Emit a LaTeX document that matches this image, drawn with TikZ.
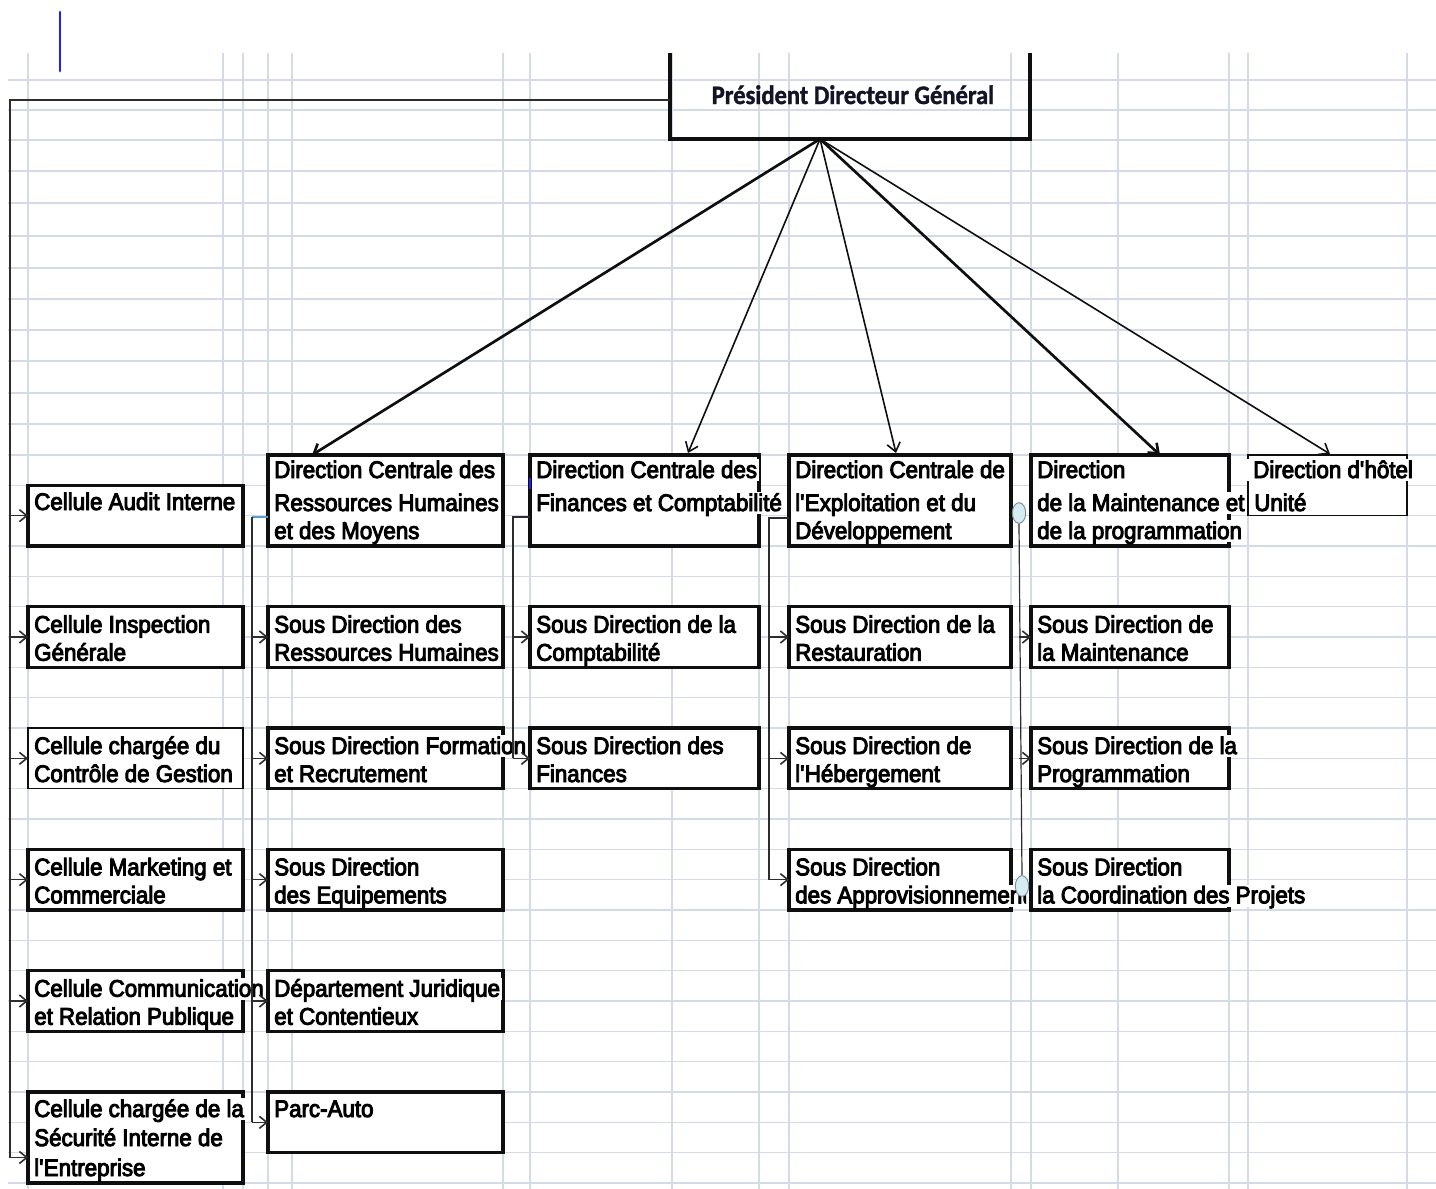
\documentclass[tikz,border=0pt]{standalone}
\usepackage{fontspec}
\usetikzlibrary{arrows.meta,shapes.geometric,calc}
\newfontfamily\boxfont{Liberation Sans}[FakeStretch=0.93,FakeBold=4]
\newfontfamily\titlefont{Carlito}[FakeStretch=0.92,FakeBold=1.5]
\definecolor{gridc}{RGB}{212,218,232}
\definecolor{ink}{RGB}{15,15,15}
\definecolor{wire}{RGB}{45,45,45}
\definecolor{stubblue}{RGB}{91,155,213}
\definecolor{cursorblue}{RGB}{30,30,255}
\definecolor{handlefill}{RGB}{214,236,243}
\definecolor{handledraw}{RGB}{125,140,150}
\newcommand\q{\textquotesingle}
% box: name, x1, y1, x2, y2 (pixel units, y downwards)
\newcommand\orgbox[6][]{\node[orgcell,#1,minimum width={(#5-#3)*0.75pt},minimum height={(#6-#4)*0.75pt}] (#2) at (#3,#4) {};}
% one text line of a box: name, x, baseline, text
\newcommand\cellline[5][]{\node[celltext,#1] (#2) at (#3,#4) {#5};}
\tikzset{
  gridline/.style={draw=gridc,line width=1.1pt},
  orgcell/.style={rectangle,anchor=north west,draw=ink,fill=white,line width=2.4pt,inner sep=0pt,outer sep=0pt},
  thincell/.style={line width=1.1pt},
  celltext/.style={anchor=base west,font=\boxfont\fontsize{18pt}{20pt}\selectfont,fill=white,
    inner xsep=1.5pt,inner ysep=0pt,text height=14pt,text depth=2.5pt,text=black},
  arr/.style={draw=wire,line width=1.2pt,-{Straight Barb[length=5.5pt,width=9pt]}},
  subwire/.style={draw=wire,line width=1.2pt},
  topthick/.style={draw=ink,line width=2pt,-{Straight Barb[length=6.5pt,width=10pt]}},
  topthin/.style={draw=ink,line width=1.2pt,-{Straight Barb[length=6.5pt,width=10pt]}},
  handle/.style={ellipse,minimum width=10pt,minimum height=15.5pt,inner sep=0pt,fill=handlefill,draw=handledraw,line width=0.7pt},
}
\begin{document}
\begin{tikzpicture}[x=0.75pt,y=-0.75pt]
\useasboundingbox (0,0) rectangle (1436,1189);
% sheet grid
\foreach \gy in {80,110,140,171,203,236,268,299,330,361,393,424}
  \draw[gridline] (8,\gy) -- (1436,\gy);
\foreach \k in {0,...,24}
  \draw[gridline] (8,{455+30.333*\k}) -- (1436,{455+30.333*\k});
\foreach \gx in {28,223,243,268,292,503,530,672,759,789,1011,1031,1118,1229,1248,1407}
  \draw[gridline] (\gx,53) -- (\gx,1189);

% cell cursor
\draw[cursorblue,line width=2.2pt,line cap=round] (60,12) -- (60,71);

% top management box (open at the top edge of the sheet)
\node[rectangle,anchor=north west,inner sep=0pt,outer sep=0pt,minimum width=270pt,minimum height=64.5pt] (pdg) at (670,53) {};
\draw[draw=ink,line width=2.4pt] (pdg.north west) -- (pdg.south west) -- (pdg.south east) -- (pdg.north east);
\node[anchor=base,font=\titlefont\bfseries\fontsize{20pt}{22pt}\selectfont,text={rgb,255:red,20;green,20;blue,40}] (pdgtitle) at (853,104) {Président Directeur Général};

% column of cells
\orgbox{audit}{28}{485.3}{243}{546}
\cellline{audit1}{32}{510}{Cellule Audit Interne}
\orgbox{insp}{28}{606.7}{243}{667.3}
\cellline{insp1}{32}{632.7}{Cellule Inspection}
\cellline{insp2}{32}{660.7}{Générale}
\orgbox[thincell]{ctrl}{28}{728}{243}{788.7}
\cellline{ctrl1}{32}{754}{Cellule chargée du}
\cellline{ctrl2}{32}{782}{Contrôle de Gestion}
\orgbox{mkt}{28}{849.3}{243}{910}
\cellline{mkt1}{32}{875.3}{Cellule Marketing et}
\cellline{mkt2}{32}{903.3}{Commerciale}
\orgbox{comm}{28}{970.7}{243}{1031.3}
\cellline{comm1}{32}{996.7}{Cellule Communication}
\cellline{comm2}{32}{1024.7}{et Relation Publique}
\orgbox{secu}{28}{1092}{243}{1183}
\cellline{secu1}{32}{1117}{Cellule chargée de la}
\cellline{secu2}{32}{1146}{Sécurité Interne de}
\cellline{secu3}{32}{1176}{l\q Entreprise}

% human resources and means
\orgbox{dcrh}{268}{455}{503}{546}
\cellline{dcrh1}{272}{478}{Direction Centrale des}
\cellline{dcrh2}{272}{511}{Ressources Humaines}
\cellline{dcrh3}{272}{539}{et des Moyens}
\orgbox{sdrh}{268}{606.7}{503}{667.3}
\cellline{sdrh1}{272}{632.7}{Sous Direction des}
\cellline{sdrh2}{272}{660.7}{Ressources Humaines}
\orgbox{sdform}{268}{728}{503}{788.7}
\cellline{sdform1}{272}{754}{Sous Direction Formation}
\cellline{sdform2}{272}{782}{et Recrutement}
\orgbox{sdequip}{268}{849.3}{503}{910}
\cellline{sdequip1}{272}{875.3}{Sous Direction}
\cellline{sdequip2}{272}{903.3}{des Equipements}
\orgbox{djur}{268}{970.7}{503}{1031.3}
\cellline{djur1}{272}{996.7}{Département Juridique}
\cellline{djur2}{272}{1024.7}{et Contentieux}
\orgbox{parc}{268}{1092}{503}{1152.7}
\cellline{parc1}{272}{1117}{Parc-Auto}

% finance
\orgbox{dcfin}{530}{455}{759}{546}
\cellline{dcfin1}{534}{478}{Direction Centrale des}
\cellline{dcfin2}{534}{511}{Finances et Comptabilité}
\orgbox{sdcompta}{530}{606.7}{759}{667.3}
\cellline{sdcompta1}{534}{632.7}{Sous Direction de la}
\cellline{sdcompta2}{534}{660.7}{Comptabilité}
\orgbox{sdfin}{530}{728}{759}{788.7}
\cellline{sdfin1}{534}{754}{Sous Direction des}
\cellline{sdfin2}{534}{782}{Finances}
\draw[cursorblue,line width=1.5pt] (530,478) -- (530,489);

% operations
\orgbox{dcexp}{789}{455}{1011}{546}
\cellline{dcexp1}{793}{478}{Direction Centrale de}
\cellline{dcexp2}{793}{511}{l\q Exploitation et du}
\cellline{dcexp3}{793}{539}{Développement}
\orgbox{sdresto}{789}{606.7}{1011}{667.3}
\cellline{sdresto1}{793}{632.7}{Sous Direction de la}
\cellline{sdresto2}{793}{660.7}{Restauration}
\orgbox{sdheb}{789}{728}{1011}{788.7}
\cellline{sdheb1}{793}{754}{Sous Direction de}
\cellline{sdheb2}{793}{782}{l\q Hébergement}
\orgbox{sdappro}{789}{849.3}{1011}{910}
\cellline{sdappro1}{793}{875.3}{Sous Direction}
\begin{scope}
  \clip (780,880) rectangle (1026,915);
  \cellline{sdappro2}{793}{903.3}{des Approvisionnements}
\end{scope}

% maintenance
\orgbox{dmaint}{1031}{455}{1229}{546}
\cellline{dmaint1}{1035}{478}{Direction}
\cellline{dmaint2}{1035}{511}{de la Maintenance et}
\cellline{dmaint3}{1035}{539}{de la programmation}
\orgbox{sdmaint}{1031}{606.7}{1229}{667.3}
\cellline{sdmaint1}{1035}{632.7}{Sous Direction de}
\cellline{sdmaint2}{1035}{660.7}{la Maintenance}
\orgbox{sdprog}{1031}{728}{1229}{788.7}
\cellline{sdprog1}{1035}{754}{Sous Direction de la}
\cellline{sdprog2}{1035}{782}{Programmation}
\orgbox{sdcoord}{1031}{849.3}{1229}{910}
\cellline{sdcoord1}{1035}{875.3}{Sous Direction}
\cellline{sdcoord2}{1035}{903.3}{la Coordination des Projets}

% hotel
\orgbox[thincell]{dhotel}{1248}{455}{1407}{515.7}
\cellline[inner xsep=4.5pt]{dhotel1}{1247}{478}{Direction d\q hôtel}
\cellline{dhotel2}{1252}{511}{Unité}

% links from the top
\coordinate (pdgfoot) at ($(pdg.south west)+(150,0)$);
\draw[topthick] (pdgfoot) -- ($(dcrh.north west)+(44,0)$);
\draw[topthin] (pdgfoot) -- ($(dcfin.north west)+(158,-2)$);
\draw[topthin] (pdgfoot) -- ($(dcexp.north west)+(107,-2)$);
\draw[topthick] (pdgfoot) -- ($(dmaint.north west)+(129,0)$);
\draw[topthin] (pdgfoot) -- ($(dhotel.north west)+(82,-1)$);

% left trunk to the cells
\coordinate (lt) at (10,100);
\coordinate (secarr) at ($(secu.west)+(0,20)$);
\draw[draw=wire,line width=2pt] ($(pdg.west)+(0,4)$) -- (lt) -- (lt |- secarr);
\foreach \n in {audit,insp,ctrl,mkt,comm}
  \draw[arr] (lt |- \n.west) -- (\n.west);
\draw[arr] (lt |- secarr) -- (secarr);

% human resources branch
\coordinate (rhT) at (252,517);
\draw[draw=stubblue,line width=1.2pt] ($(dcrh.south west)+(0,-29)$) -- (rhT);
\draw[subwire] (rhT) -- (rhT |- parc.west);
\foreach \n in {sdrh,sdform,sdequip,djur,parc}
  \draw[arr] (rhT |- \n.west) -- (\n.west);

% finance branch
\coordinate (fT) at (513,517);
\draw[subwire] ($(dcfin.south west)+(0,-29)$) -- (fT) -- (fT |- sdfin.west);
\foreach \n in {sdcompta,sdfin}
  \draw[arr] (fT |- \n.west) -- (\n.west);

% operations branch
\coordinate (eT) at (769,518);
\draw[subwire] ($(dcexp.south west)+(0,-28)$) -- (eT) -- (eT |- sdappro.west);
\foreach \n in {sdresto,sdheb,sdappro}
  \draw[arr] (eT |- \n.west) -- (\n.west);

% maintenance branch with its selection handles
\node[handle] (hA) at (1019,513) {};
\node[handle] (hB) at (1022,886) {};
\draw[draw=wire,line width=0.9pt] (hA.south) -- (hB.north);
\foreach \n in {sdmaint,sdprog}
  \draw[arr] (hA |- \n.west) -- (\n.west);
\end{tikzpicture}
\end{document}
